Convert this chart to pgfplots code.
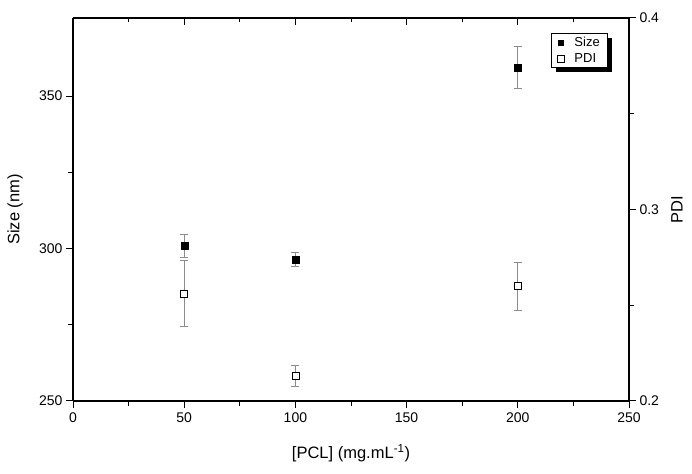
\documentclass[border=0pt]{standalone}
\usepackage{pgfplots}
\pgfplotsset{compat=1.18}
\usepackage{fontspec}
\setmainfont{Liberation Sans}
\usetikzlibrary{shadows}
\definecolor{errgray}{HTML}{8C8C8C}
\begin{document}
\begin{tikzpicture}
\path[use as bounding box] (-73pt,-72pt) rectangle (619pt,401pt);
\pgfplotsset{
  common/.style={
    at={(0,0)}, anchor=south west,
    scale only axis, width=556pt, height=383pt,
    xmin=0, xmax=250,
    /pgf/number format/assume math mode=true,
    tick label style={font=\fontsize{14}{16}\selectfont},
    label style={font=\fontsize{16.5}{19}\selectfont},
    major tick length=7pt, minor tick length=4.5pt,
    every tick/.style={black, line width=1pt},
    axis line style={line width=1.2pt},
    minor tick num=1,
  }
}
% bottom + left
\begin{axis}[common,
  axis x line*=bottom, axis y line*=left,
  tick align=outside,
  ymin=250, ymax=375.6,
  xtick={0,50,...,250}, ytick={250,300,350},
  xlabel={[PCL] (mg.mL\textsuperscript{-1})},
  ylabel={Size (nm)},
  xlabel style={at={(axis description cs:0.5,-0.1358)}, anchor=center},
  ylabel style={at={(axis description cs:-0.1043,0.5)}, anchor=center},
  xticklabel style={yshift=-1pt},
]
\addplot[only marks, mark=square*, mark size=3.5pt, mark options={fill=black, draw=black},
  error bars/.cd, y dir=both, y explicit,
  error bar style={errgray, line width=0.9pt},
  error mark options={rotate=90, errgray, mark size=4pt, line width=0.9pt}]
  coordinates {(50,300.9) +- (0,3.8) (100,296.5) +- (0,2.3) (200,359.4) +- (0,7.0)};
\end{axis}
% top ticks (inward)
\begin{axis}[common,
  axis x line*=top, axis y line=none,
  tick align=inside,
  ymin=0, ymax=1,
  xtick={0,50,...,250}, xticklabels={},
]
\end{axis}
% right axis
\begin{axis}[common,
  axis x line=none, axis y line*=right,
  tick align=outside,
  ymin=0.2, ymax=0.4,
  ytick={0.2,0.3,0.4},
  yticklabel style={/pgf/number format/fixed, /pgf/number format/precision=1},
  ylabel={PDI},
  ylabel style={at={(axis description cs:1.0863,0.5)}, anchor=center},
  legend style={at={(0.86,0.961)}, anchor=north west, draw=black, line width=0.6pt,
    font=\fontsize{13}{14}\selectfont, inner xsep=6pt, inner ysep=2pt, row sep=1pt,
    /tikz/every odd column/.append style={column sep=8pt},
    drop shadow={shadow xshift=4.5pt, shadow yshift=-4.5pt, fill=black, opacity=1}},
  legend cell align=left,
]
\addlegendimage{only marks, mark=square*, mark size=2.5pt, mark options={fill=black, draw=black}}
\addlegendentry{Size}
\addplot[only marks, mark=square*, mark size=3.5pt, mark options={fill=white, draw=black, line width=0.7pt},
  error bars/.cd, y dir=both, y explicit,
  error bar style={errgray, line width=0.9pt},
  error mark options={rotate=90, errgray, mark size=4pt, line width=0.9pt}]
  coordinates {(50,0.256) +- (0,0.0173) (100,0.213) +- (0,0.0054) (200,0.260) +- (0,0.0125)};
\addlegendentry{PDI}
\end{axis}
\end{tikzpicture}
\end{document}
